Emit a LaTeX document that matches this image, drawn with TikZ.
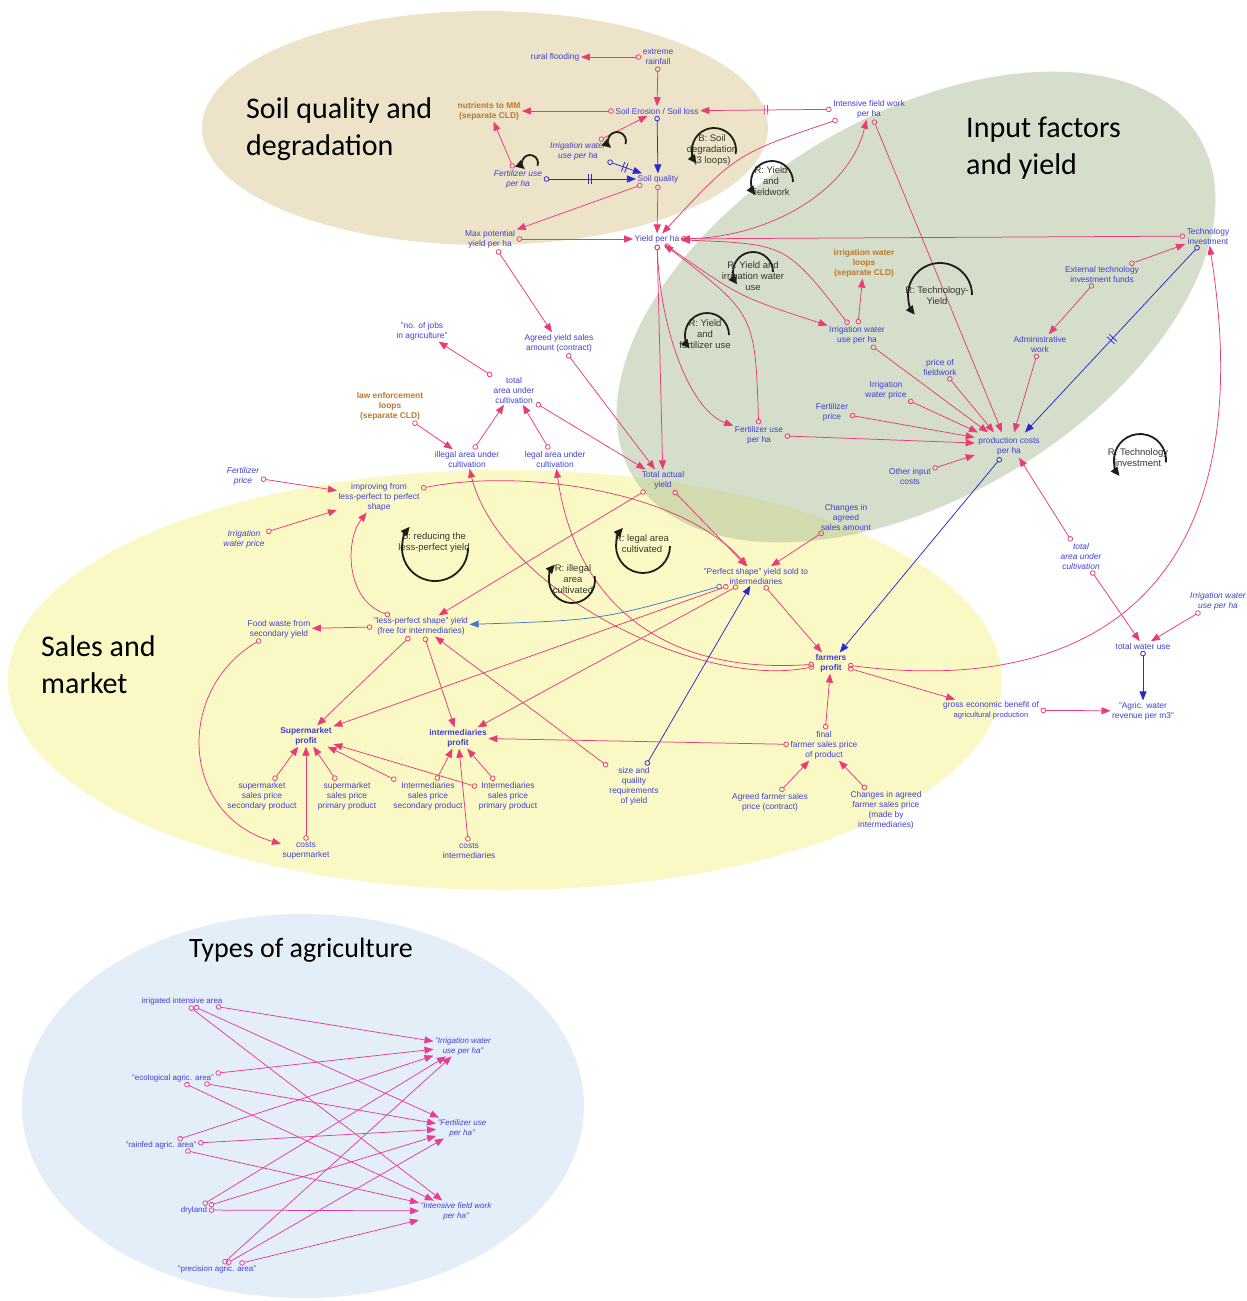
\documentclass[tikz,border=0pt]{standalone}
\usepackage{fontspec}
\setmainfont{Liberation Sans}
\newfontfamily\titlefont{Carlito}
\usetikzlibrary{arrows.meta,decorations.markings}

\definecolor{tanbg}{RGB}{237,227,200}
\definecolor{yelbg}{RGB}{250,249,198}
\definecolor{bluebg}{RGB}{228,238,248}
\definecolor{greenbg}{RGB}{170,190,150}
\definecolor{varblue}{RGB}{64,64,210}
\definecolor{extorange}{RGB}{190,120,45}
\definecolor{lnkpink}{RGB}{234,60,115}
\definecolor{typpink}{RGB}{232,60,150}
\definecolor{lnkblue}{RGB}{40,40,215}
\definecolor{lnksteel}{RGB}{70,120,200}
\definecolor{loopdark}{RGB}{30,30,25}
\definecolor{looptext}{RGB}{55,55,45}

\newcommand\cldsize{\fontsize{8.4}{10}\selectfont}
\newcommand\typsize{\fontsize{8}{10}\selectfont}
\newcommand\loopsize{\fontsize{9.5}{11}\selectfont}
\newcommand\cldloop[5]{\draw[loopsym] ([shift={(#4:#3)}]#1,#2) arc[start angle=#4, end angle=#5, radius=#3];}

\pgfdeclarelayer{regions}
\pgfdeclarelayer{links}
\pgfsetlayers{regions,links,main}

\tikzset{
  var/.style={font=\cldsize, text=varblue, align=center, inner sep=1.5pt},
  ivar/.style={var, font=\cldsize\itshape},
  bvar/.style={var, font=\cldsize\bfseries},
  extcld/.style={var, font=\cldsize\bfseries, text=extorange},
  tvar/.style={var, font=\typsize},
  tivar/.style={var, font=\typsize\itshape},
  looplabel/.style={font=\loopsize, text=looptext, align=center, inner sep=0pt},
  areatitle/.style={font=\titlefont\fontsize{30}{37}\selectfont, text=black, align=left, anchor=west, inner sep=0pt},
  link/.style={line width=0.75pt, {Circle[open,length=5.5pt,width=5.5pt]}-{Triangle[length=9pt,width=7pt]}},
  lk/.style={link, draw=lnkpink},
  lb/.style={link, draw=lnkblue},
  ls/.style={link, draw=lnksteel},
  lt/.style={link, draw=typpink},
  delaymark/.style={postaction={decorate}, decoration={markings, mark=at position 0.5 with {\draw[-, line width=0.8pt, draw=#1] (-1.7,-5) -- (-1.7,5) (1.7,-5) -- (1.7,5);}}},
  loopsym/.style={draw=loopdark, line width=1.8pt, -{Triangle[length=9pt,width=8pt]}},
}

\begin{document}
\begin{tikzpicture}[x=1pt,y=-1pt]
\useasboundingbox (0,0) rectangle (1247,1301);

% region backgrounds
\begin{pgfonlayer}{regions}
\fill[white] (0,0) rectangle (1247,1301);
\fill[tanbg] (485,128) ellipse [x radius=283, y radius=117];
\fill[yelbg] (505,680) ellipse [x radius=497, y radius=210];
\fill[bluebg] (303,1106) ellipse [x radius=281, y radius=192];
\fill[greenbg, fill opacity=0.5, rotate around={31:(916,307)}] (916,307) ellipse [x radius=330, y radius=190];
\end{pgfonlayer}

% region titles
\node[areatitle] (tsoil) at (246,129) {Soil quality and\\degradation};
\node[areatitle] (tinput) at (966,148) {Input factors\\and yield};
\node[areatitle] (tsales) at (41,665) {Sales and\\market};
\node[areatitle, anchor=center, font=\titlefont\fontsize{28}{34}\selectfont] (ttypes) at (301,950) {Types of agriculture};

% soil quality and degradation
\node[var] (rain) at (658,57) {extreme\\rainfall};
\node[var] (flood) at (555,57) {rural flooding};
\node[extcld] (nutr) at (489,111) {nutrients to MM\\(separate CLD)};
\node[var] (soilero) at (657,111) {Soil Erosion / Soil loss};
\node[var] (fieldw) at (869,109) {Intensive field work\\per ha};
\node[ivar] (irrs) at (578,151) {Irrigation water\\use per ha};
\node[ivar] (ferts) at (518,179) {Fertilizer use\\per ha};
\node[var] (soilq) at (658,179) {Soil quality};
\node[var] (maxy) at (490,239) {Max potential\\yield per ha};
\node[var] (yield) at (657,239) {Yield per ha};

% input factors and yield
\node[var] (tech) at (1208,236) {Technology\\investment};
\node[extcld] (irrloops) at (864,263) {irrigation water\\loops\\(separate CLD)};
\node[var] (extfund) at (1102,274) {External technology\\investment funds};
\node[var] (irrw) at (857,335) {Irrigation water\\use per ha};
\node[var] (admin) at (1040,344) {Administrative\\work};
\node[var] (pfield) at (940,367) {price of\\fieldwork};
\node[var] (irrp) at (886,390) {Irrigation\\water price};
\node[var] (fertp) at (832,412) {Fertilizer\\price};
\node[var] (fertu) at (759,435) {Fertilizer use\\per ha};
\node[var] (prodc) at (1009,446) {production costs\\per ha};
\node[var] (other) at (910,476) {Other input\\costs};

% area and yield
\node[var] (jobs) at (422,331) {"no. of jobs\\in agriculture"};
\node[var] (agreed) at (559,343) {Agreed yield sales\\amount (contract)};
\node[var] (totarea) at (514,390) {total\\area under\\cultivation};
\node[extcld] (law) at (390,406) {law enforcement\\loops\\(separate CLD)};
\node[var] (illegal) at (467,459) {illegal area under\\cultivation};
\node[var] (legal) at (555,459) {legal area under\\cultivation};
\node[var] (totyield) at (663,480) {Total actual\\yield};

% sales and market
\node[ivar] (fertp2) at (243,476) {Fertilizer\\price};
\node[var] (improve) at (379,497) {improving from\\less-perfect to perfect\\shape};
\node[ivar] (irrp2) at (244,539) {Irrigation\\water price};
\node[var] (chsales) at (846,517) {Changes in\\agreed\\sales amount};
\node[var] (perfect) at (756,576) {"Perfect shape" yield sold to\\intermediaries};
\node[var] (waste) at (279,629) {Food waste from\\secondary yield};
\node[var] (lessp) at (421,626) {"less-perfect shape" yield\\(free for intermediaries)};
\node[ivar] (totarea2) at (1081,556) {total\\area under\\cultivation};
\node[ivar] (irrw2) at (1218,601) {Irrigation water\\use per ha};
\node[var] (water) at (1143,646) {total water use};
\node[bvar] (farmp) at (831,663) {farmers\\profit};
\node[var] (gross) at (991,710) {gross economic benefit of\\{\fontsize{7.6}{10}\selectfont agricultural production}};
\node[var] (revenue) at (1143,711) {"Agric. water\\revenue per m3"};
\node[bvar] (superp) at (306,736) {Supermarket\\profit};
\node[bvar] (interp) at (458,738) {intermediaries\\profit};
\node[var] (finalp) at (824,745) {final\\farmer sales price\\of product};
\node[var] (sss) at (262,796) {supermarket\\sales price\\secondary product};
\node[var] (ssp) at (347,796) {supermarket\\sales price\\primary product};
\node[var] (iss) at (428,796) {Intermediaries\\sales price\\secondary product};
\node[var] (isp) at (508,796) {Intermediaries\\sales price\\primary product};
\node[var] (sizeq) at (634,786) {size and\\quality\\requirements\\of yield};
\node[var] (agrp) at (770,802) {Agreed farmer sales\\price (contract)};
\node[var] (chprice) at (886,810) {Changes in agreed\\farmer sales price\\(made by\\intermediaries)};
\node[var] (costs) at (306,851) {costs\\supermarket};
\node[var] (costi) at (469,851) {costs\\intermediaries};

% types of agriculture
\node[tvar] (tirr) at (182,1001) {irrigated intensive area};
\node[tvar] (teco) at (173,1078) {"ecological agric. area"};
\node[tvar] (train) at (161,1145) {"rainfed agric. area"};
\node[tvar] (tdry) at (194,1210) {dryland};
\node[tvar] (tprec) at (217,1269) {"precision agric. area"};
\node[tivar] (girr) at (463,1046) {"Irrigation water\\use per ha"};
\node[tivar] (gfert) at (462,1128) {"Fertilizer use\\per ha"};
\node[tivar] (gfield) at (456,1211) {"Intensive field work\\per ha"};

% loop labels
\node[looplabel] (lpsoil) at (712,150) {B: Soil\\degradation\\(3 loops)};
\node[looplabel] (lpfield) at (771,181) {R: Yield\\and\\fieldwork};
\node[looplabel] (lpirr) at (753,276) {R: Yield and\\irrigation water\\use};
\node[looplabel] (lptechy) at (937,296) {R: Technology-\\Yield};
\node[looplabel] (lpfert) at (705,334) {R: Yield\\and\\fertilizer use};
\node[looplabel] (lptechi) at (1138,458) {R: Technology\\investment};
\node[looplabel] (lpless) at (434,543) {B: reducing the\\less-perfect yield};
\node[looplabel] (lpillegal) at (573,579) {R: illegal\\area\\cultivated};
\node[looplabel] (lplegal) at (642,544) {R: legal area\\cultivated};

% loop symbols
\cldloop{617}{141}{9}{20}{-230}
\cldloop{530}{163}{8}{20}{-230}
\cldloop{714}{150}{22}{10}{-218}
\cldloop{772}{182}{21}{0}{-218}
\cldloop{753}{272}{20}{0}{-218}
\cldloop{940}{295}{32}{0}{-218}
\cldloop{707}{335}{22}{0}{-218}
\cldloop{1140}{460}{26}{5}{-218}
\cldloop{435}{548}{33}{0}{220}
\cldloop{572}{580}{23}{-10}{222}
\cldloop{643}{546}{27}{0}{222}

\begin{pgfonlayer}{links}
% soil quality and degradation
\draw[lk] (rain) -- (flood);
\draw[lk] (rain) -- (soilero);
\draw[lk] (soilero) -- (nutr);
\draw[lk, delaymark=lnkpink] (fieldw) -- (soilero);
\draw[lk] (irrs) -- (soilero);
\draw[lb] (soilero) -- (soilq);
\draw[lb, delaymark=lnkblue] (irrs) -- (soilq);
\draw[lb, delaymark=lnkblue] (ferts) -- (soilq);
\draw[lk] (ferts) -- (nutr);
\draw[lk] (soilq) -- (maxy);
\draw[lk] (soilq) -- (yield);
\draw[lk] (maxy) -- (yield);
\draw[lk] (fieldw) .. controls (736,154) .. (yield);
\draw[lk] (yield) .. controls (770,238) and (850,190) .. (fieldw);

% input factors and yield
\draw[lk] (tech) -- (yield);
\draw[lk] (extfund) -- (tech);
\draw[lk] (extfund) -- (admin);
\draw[lb, delaymark=lnkblue] (tech) -- ([xshift=16pt,yshift=3pt]prodc.north);
\draw[lk] (admin) -- ([xshift=5pt,yshift=3pt]prodc.north);
\draw[lk] (fieldw) -- ([xshift=-7pt,yshift=3pt]prodc.north);
\draw[lk] (pfield) -- ([xshift=-15pt,yshift=3pt]prodc.north);
\draw[lk] (irrw) -- ([xshift=-21pt,yshift=3pt]prodc.north);
\draw[lk] (irrp) -- ([xshift=-31pt,yshift=3pt]prodc.north);
\draw[lk] (fertp) -- ([xshift=-2pt,yshift=-2pt]prodc.north west);
\draw[lk] (fertu) -- ([xshift=-2pt,yshift=3pt]prodc.west);
\draw[lk] (other) -- ([xshift=-2pt,yshift=-9pt]prodc.west);
\draw[lk] (totarea2) -- ([xshift=10pt,yshift=-1pt]prodc.south);
\draw[lb] ([xshift=-8pt,yshift=-1pt]prodc.south) -- (farmp);
\draw[lk] (yield) .. controls (740,297) .. (irrw);
\draw[lk] (irrw) .. controls (786,244) .. (yield);
\draw[lk] (irrw) -- (irrloops);
\draw[lk] (yield) .. controls (660,330) and (690,410) .. (fertu);
\draw[lk] (fertu) .. controls (755,314) .. (yield);
\draw[lk] (yield) -- (totyield);
\draw[lk] (farmp) .. controls (1120,700) and (1260,560) .. (tech);

% water use
\draw[lk] (totarea2) -- (water);
\draw[lk] (irrw2) -- (water);
\draw[lb] (water) -- (revenue);
\draw[lk] (gross) -- (revenue);
\draw[lk] (farmp) -- (gross);

% area and yield
\draw[lk] (totarea) -- (jobs);
\draw[lk] (law) -- (illegal);
\draw[lk] (illegal) -- (totarea);
\draw[lk] (legal) -- (totarea);
\draw[lk] (totarea) -- (totyield);
\draw[lk] (agreed) -- (totyield);
\draw[lk] (maxy) -- (agreed);
\draw[lk] (farmp) .. controls (700,690) and (500,590) .. (illegal);
\draw[lk] (farmp) .. controls (660,675) and (575,600) .. (legal);

% sales and market
\draw[lk] (improve) .. controls (520,468) and (680,490) .. (perfect);
\draw[lk] (totyield) -- (perfect);
\draw[lk] (totyield) -- (lessp);
\draw[lk] (chsales) -- (perfect);
\draw[ls] (perfect) .. controls (602,620) .. (lessp);
\draw[lk] (perfect) -- (farmp);
\draw[lk] (perfect) -- (superp);
\draw[lk] (perfect) -- (interp);
\draw[lb] (sizeq) -- (perfect);
\draw[lk] (sizeq) -- (lessp);
\draw[lk] (lessp) .. controls (345,600) and (345,540) .. (improve);
\draw[lk] (fertp2) -- (improve);
\draw[lk] (irrp2) -- (improve);
\draw[lk] (lessp) -- (waste);
\draw[lk] (waste) .. controls (175,690) and (180,815) .. (costs);
\draw[lk] (lessp) -- (superp);
\draw[lk] (lessp) -- (interp);
\draw[lk] (finalp) -- (interp);
\draw[lk] (finalp) -- (farmp);
\draw[lk] (agrp) -- (finalp);
\draw[lk] (chprice) -- (finalp);
\draw[lk] (sss) -- (superp);
\draw[lk] (costs) -- (superp);
\draw[lk] (ssp) -- (superp);
\draw[lk] (iss) -- (superp);
\draw[lk] (isp) -- (superp);
\draw[lk] (iss) -- (interp);
\draw[lk] (isp) -- (interp);
\draw[lk] (costi) -- (interp);

% types of agriculture
\foreach \src in {tirr,teco,train,tdry,tprec}{
  \foreach \dst in {girr,gfert,gfield}{
    \draw[lt] (\src) -- (\dst);
  }
}
\end{pgfonlayer}
\end{tikzpicture}
\end{document}
